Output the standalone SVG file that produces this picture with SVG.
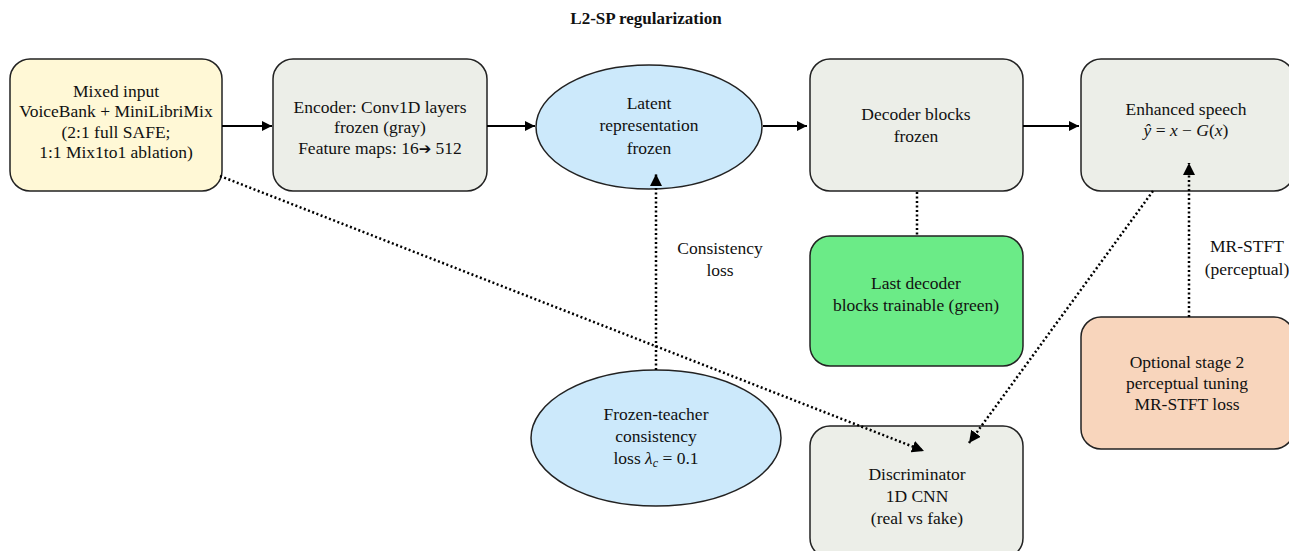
<svg xmlns="http://www.w3.org/2000/svg" width="1289" height="551" viewBox="0 0 1289 551">
<style>
text{font-family:"Liberation Serif","Times New Roman",serif;font-size:17.5px;fill:#111;text-anchor:middle}
.title{font-weight:bold;font-size:17px}
.box{stroke:#222;stroke-width:1.5}
.gray{fill:#ECEEE8}
.solid{stroke:#000;stroke-width:2;fill:none}
.dot{stroke:#000;stroke-width:2.5;fill:none;stroke-dasharray:2 2.5}
.it{font-style:italic}
</style>
<defs>
<marker id="ah" viewBox="0 0 10 10" refX="10" refY="5" markerWidth="10" markerHeight="10" markerUnits="userSpaceOnUse" orient="auto"><path d="M0,0 L10,5 L0,10 z" fill="#000"/></marker>
<marker id="ahd" viewBox="0 0 10 10" refX="10" refY="5" markerWidth="12" markerHeight="12" markerUnits="userSpaceOnUse" orient="auto"><path d="M0,0 L10,5 L0,10 z" fill="#000" stroke="none"/></marker>
</defs>
<text class="title" x="646" y="24">L2-SP regularization</text>
<g id="mixed">
<rect class="box" x="10" y="59" width="212" height="132" rx="20" fill="#FFF8D6"/>
<text x="116" y="97">Mixed input</text>
<text x="116" y="117">VoiceBank + MiniLibriMix</text>
<text x="116" y="138">(2:1 full SAFE;</text>
<text x="116" y="158">1:1 Mix1to1 ablation)</text>
</g>
<g id="encoder">
<rect class="box gray" x="273" y="59" width="214" height="132" rx="20"/>
<text x="380" y="113">Encoder: Conv1D layers</text>
<text x="380" y="133">frozen (gray)</text>
<text x="380" y="154">Feature maps: 16<tspan font-family="'DejaVu Sans',sans-serif" font-size="15">➔</tspan> 512</text>
</g>
<g id="latent">
<ellipse class="box" cx="649" cy="127" rx="113" ry="62" fill="#CCE9FB"/>
<text x="649" y="109">Latent</text>
<text x="649" y="131">representation</text>
<text x="649" y="154">frozen</text>
</g>
<g id="decoder">
<rect class="box gray" x="810" y="59" width="213" height="132" rx="20"/>
<text x="916" y="120">Decoder blocks</text>
<text x="916" y="142">frozen</text>
</g>
<g id="enhanced">
<rect class="box gray" x="1081" y="59" width="213" height="132" rx="20"/>
<text x="1186" y="115">Enhanced speech</text>
<text x="1186" y="136"><tspan class="it">ŷ</tspan> = <tspan class="it">x</tspan> − <tspan class="it">G</tspan>(<tspan class="it">x</tspan>)</text>
</g>
<g id="lastdecoder">
<rect class="box" x="810" y="236" width="213" height="130" rx="20" fill="#6BEB87"/>
<text x="916" y="289">Last decoder</text>
<text x="916" y="311">blocks trainable (green)</text>
</g>
<g id="optional">
<rect class="box" x="1081" y="317" width="213" height="132" rx="20" fill="#F8D5BC"/>
<text x="1187" y="368">Optional stage 2</text>
<text x="1187" y="389">perceptual tuning</text>
<text x="1187" y="410">MR-STFT loss</text>
</g>
<g id="teacher">
<ellipse class="box" cx="656" cy="438" rx="125" ry="68" fill="#CCE9FB"/>
<text x="656" y="420">Frozen-teacher</text>
<text x="656" y="442">consistency</text>
<text x="656" y="464">loss <tspan class="it">λ</tspan><tspan class="it" font-size="12" dy="3">c</tspan><tspan dy="-3"> = 0.1</tspan></text>
</g>
<g id="discriminator">
<rect class="box gray" x="810" y="426" width="213" height="132" rx="20"/>
<text x="917" y="480">Discriminator</text>
<text x="917" y="502">1D CNN</text>
<text x="917" y="524">(real vs fake)</text>
</g>
<g id="connectors">
<line class="solid" x1="222" y1="126" x2="272" y2="126" marker-end="url(#ah)"/>
<line class="solid" x1="487" y1="126" x2="535" y2="126" marker-end="url(#ah)"/>
<line class="solid" x1="763" y1="126" x2="807" y2="126" marker-end="url(#ah)"/>
<line class="solid" x1="1023" y1="126" x2="1079" y2="126" marker-end="url(#ah)"/>
<line class="dot" x1="656" y1="370" x2="656" y2="174" marker-end="url(#ahd)"/>
<line class="dot" x1="917" y1="192" x2="917" y2="236"/>
<line class="dot" x1="220" y1="176" x2="924" y2="451" marker-end="url(#ahd)"/>
<line class="dot" x1="1153" y1="191" x2="969" y2="443" marker-end="url(#ahd)"/>
<line class="dot" x1="1189" y1="317" x2="1189" y2="163" marker-end="url(#ahd)"/>
<text x="720" y="254">Consistency</text>
<text x="720" y="276">loss</text>
<text x="1247" y="252">MR-STFT</text>
<text x="1247" y="275">(perceptual)</text>
</g>
</svg>
